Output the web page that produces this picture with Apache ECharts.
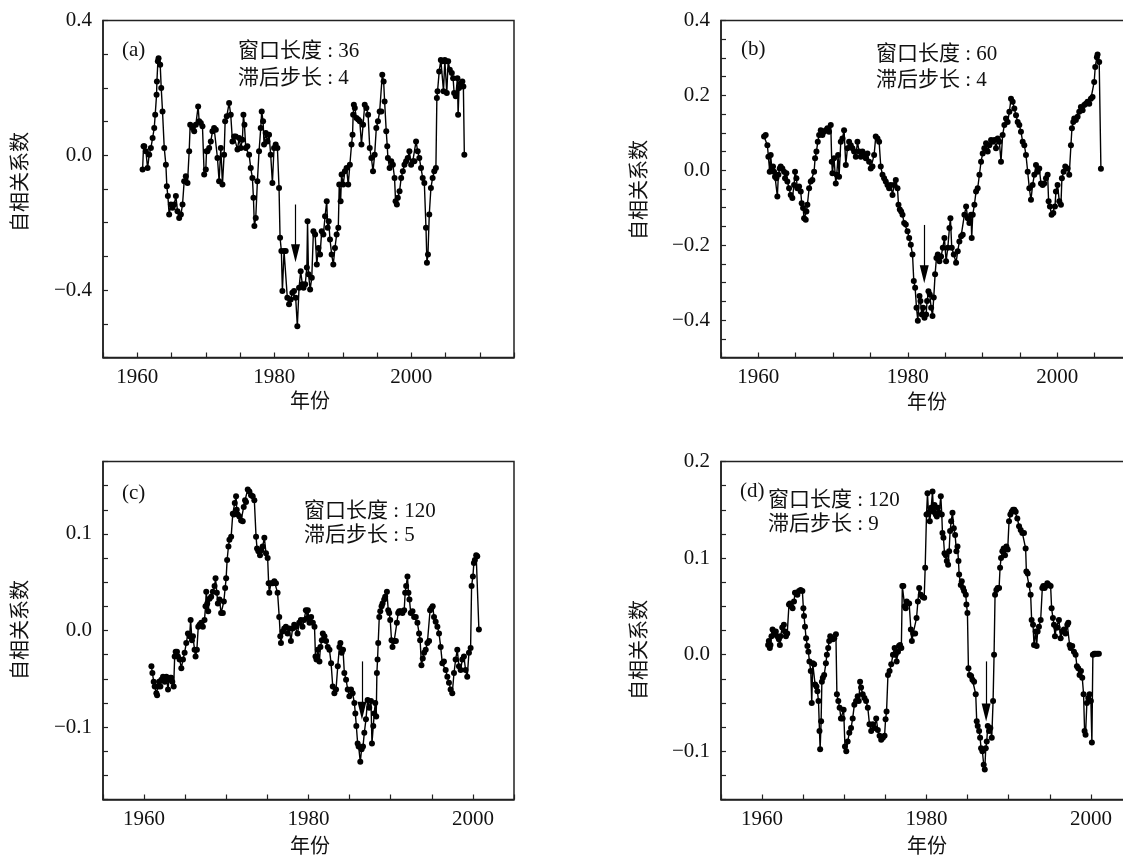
<!DOCTYPE html>
<html>
<head>
<meta charset="utf-8">
<script src="https://cdn.jsdelivr.net/npm/echarts@6/dist/echarts.min.js"></script>
<style>html,body{margin:0;padding:0;background:#fff;}#main{width:1123px;height:856px;}</style>
</head>
<body>
<div id="main"></div>
<script>
// ---- data: [year, autocorrelation] ----
const seriesA = [[1960.78,-0.042],[1960.92,0.027],[1961.02,0.027],[1961.26,0.012],[1961.51,-0.038],[1961.75,0.002],[1961.99,0.022],[1962.24,0.051],[1962.48,0.081],[1962.62,0.120],[1962.82,0.180],[1962.87,0.219],[1963.01,0.279],[1963.11,0.288],[1963.35,0.269],[1963.50,0.200],[1963.69,0.130],[1963.94,0.022],[1964.18,-0.028],[1964.32,-0.092],[1964.47,-0.121],[1964.66,-0.176],[1964.91,-0.146],[1965.15,-0.156],[1965.39,-0.146],[1965.64,-0.121],[1965.88,-0.166],[1966.12,-0.186],[1966.37,-0.176],[1966.61,-0.146],[1966.85,-0.077],[1967.09,-0.062],[1967.34,-0.082],[1967.58,0.012],[1967.73,0.091],[1968.07,0.081],[1968.31,0.071],[1968.55,0.091],[1968.89,0.145],[1969.04,0.101],[1969.28,0.096],[1969.52,0.086],[1969.77,-0.057],[1970.01,-0.042],[1970.11,0.012],[1970.25,0.012],[1970.50,0.022],[1970.74,0.041],[1970.98,0.071],[1971.22,0.081],[1971.47,0.076],[1971.71,-0.008],[1971.95,-0.077],[1972.20,0.022],[1972.44,-0.087],[1972.68,0.002],[1972.83,0.101],[1973.07,0.116],[1973.41,0.155],[1973.65,0.120],[1973.90,0.041],[1974.14,0.056],[1974.38,0.056],[1974.63,0.017],[1974.87,0.051],[1975.11,0.022],[1975.35,0.046],[1975.50,0.120],[1975.65,0.091],[1975.84,0.022],[1976.08,0.027],[1976.33,0.002],[1976.57,-0.038],[1976.81,-0.067],[1976.96,-0.126],[1977.10,-0.210],[1977.30,-0.186],[1977.54,-0.077],[1977.78,0.012],[1978.03,0.081],[1978.17,0.130],[1978.37,0.101],[1978.51,0.032],[1978.76,0.066],[1979.00,0.041],[1979.24,0.061],[1979.48,0.002],[1979.73,-0.082],[1979.97,0.022],[1980.21,0.032],[1980.46,0.022],[1980.70,-0.097],[1980.85,-0.245],[1981.04,-0.284],[1981.19,-0.403],[1981.43,-0.284],[1981.67,-0.284],[1981.91,-0.423],[1982.16,-0.442],[1982.40,-0.428],[1982.64,-0.408],[1982.89,-0.403],[1983.13,-0.423],[1983.37,-0.507],[1983.62,-0.393],[1983.86,-0.344],[1984.10,-0.383],[1984.28,-0.393],[1984.52,-0.383],[1984.76,-0.333],[1984.86,-0.196],[1985.00,-0.353],[1985.24,-0.398],[1985.48,-0.363],[1985.72,-0.225],[1985.97,-0.235],[1986.21,-0.324],[1986.45,-0.275],[1986.69,-0.294],[1986.93,-0.225],[1987.17,-0.235],[1987.42,-0.181],[1987.66,-0.136],[1987.80,-0.215],[1987.95,-0.196],[1988.14,-0.250],[1988.38,-0.294],[1988.62,-0.324],[1988.86,-0.275],[1989.11,-0.235],[1989.35,-0.215],[1989.49,-0.087],[1989.69,-0.136],[1989.83,-0.057],[1990.07,-0.087],[1990.31,-0.047],[1990.56,-0.038],[1990.80,-0.087],[1991.04,-0.028],[1991.28,0.032],[1991.43,0.061],[1991.52,0.120],[1991.62,0.150],[1991.76,0.140],[1992.00,0.111],[1992.25,0.106],[1992.49,0.101],[1992.73,0.032],[1992.97,0.091],[1993.21,0.150],[1993.45,0.140],[1993.70,0.120],[1993.94,0.022],[1994.18,-0.008],[1994.42,-0.047],[1994.66,0.002],[1994.90,0.081],[1995.14,0.101],[1995.39,0.130],[1995.63,0.130],[1995.77,0.239],[1995.97,0.219],[1996.11,0.160],[1996.35,0.071],[1996.50,0.027],[1996.59,-0.008],[1996.84,-0.038],[1997.08,-0.018],[1997.32,-0.028],[1997.56,-0.067],[1997.71,-0.136],[1997.90,-0.146],[1998.04,-0.126],[1998.29,-0.107],[1998.53,-0.067],[1998.77,-0.047],[1999.01,-0.028],[1999.25,-0.018],[1999.49,-0.008],[1999.73,0.012],[1999.98,-0.028],[2000.22,-0.018],[2000.46,-0.018],[2000.70,0.041],[2000.94,0.012],[2001.18,-0.008],[2001.43,-0.038],[2001.67,-0.067],[2001.91,-0.082],[2002.15,-0.215],[2002.29,-0.319],[2002.44,-0.294],[2002.63,-0.176],[2002.87,-0.097],[2003.12,-0.067],[2003.36,-0.047],[2003.60,-0.038],[2003.74,0.170],[2003.84,0.190],[2004.08,0.249],[2004.32,0.283],[2004.57,0.279],[2004.71,0.190],[2004.90,0.283],[2005.05,0.279],[2005.19,0.185],[2005.39,0.279],[2005.63,0.254],[2005.92,0.244],[2006.11,0.229],[2006.26,0.185],[2006.50,0.175],[2006.74,0.229],[2006.84,0.120],[2006.98,0.200],[2007.22,0.214],[2007.46,0.219],[2007.61,0.204],[2007.75,0.002]];

const seriesB = [[1960.76,0.090],[1960.98,0.094],[1961.21,0.067],[1961.34,0.036],[1961.52,-0.004],[1961.65,0.041],[1961.79,0.005],[1961.96,0.010],[1962.10,-0.004],[1962.23,-0.017],[1962.41,-0.021],[1962.54,-0.070],[1962.68,-0.012],[1962.86,0.005],[1962.99,0.010],[1963.21,0.005],[1963.44,-0.004],[1963.57,-0.021],[1963.75,-0.008],[1963.88,-0.030],[1964.11,-0.048],[1964.33,-0.066],[1964.55,-0.074],[1964.78,-0.039],[1964.91,-0.004],[1965.09,-0.021],[1965.22,-0.048],[1965.45,-0.043],[1965.67,-0.057],[1965.80,-0.088],[1965.98,-0.101],[1966.12,-0.128],[1966.34,-0.132],[1966.43,-0.110],[1966.56,-0.092],[1966.79,-0.048],[1967.01,-0.030],[1967.23,-0.026],[1967.46,-0.004],[1967.59,0.032],[1967.77,0.050],[1967.95,0.076],[1968.13,0.094],[1968.35,0.107],[1968.57,0.094],[1968.79,0.103],[1969.02,0.107],[1969.24,0.112],[1969.46,0.103],[1969.69,0.121],[1969.82,0.023],[1969.91,-0.008],[1970.13,0.032],[1970.36,-0.035],[1970.49,-0.012],[1970.67,0.041],[1970.80,-0.017],[1971.03,0.076],[1971.25,0.085],[1971.47,0.107],[1971.70,0.014],[1971.92,0.059],[1972.14,0.076],[1972.37,0.067],[1972.59,0.059],[1972.81,0.050],[1973.04,0.036],[1973.26,0.076],[1973.48,0.050],[1973.71,0.036],[1973.93,0.050],[1974.15,0.041],[1974.38,0.032],[1974.60,0.045],[1974.82,0.023],[1975.04,0.005],[1975.27,0.010],[1975.49,0.041],[1975.71,0.090],[1975.94,0.085],[1976.16,0.076],[1976.38,0.010],[1976.61,-0.012],[1976.83,-0.021],[1977.05,-0.030],[1977.28,-0.039],[1977.50,-0.048],[1977.72,-0.039],[1977.95,-0.066],[1978.17,-0.039],[1978.39,-0.026],[1978.62,-0.048],[1978.75,-0.092],[1978.93,-0.105],[1979.11,-0.110],[1979.29,-0.119],[1979.51,-0.141],[1979.73,-0.145],[1979.96,-0.163],[1980.18,-0.181],[1980.40,-0.199],[1980.63,-0.225],[1980.80,-0.296],[1980.98,-0.314],[1981.16,-0.367],[1981.34,-0.402],[1981.56,-0.336],[1981.69,-0.349],[1981.87,-0.385],[1982.05,-0.367],[1982.23,-0.394],[1982.45,-0.385],[1982.58,-0.349],[1982.76,-0.323],[1982.94,-0.332],[1983.12,-0.367],[1983.30,-0.389],[1983.47,-0.340],[1983.65,-0.278],[1983.83,-0.234],[1984.01,-0.225],[1984.23,-0.243],[1984.45,-0.230],[1984.68,-0.207],[1984.90,-0.181],[1985.12,-0.243],[1985.35,-0.207],[1985.57,-0.154],[1985.70,-0.128],[1985.88,-0.207],[1986.15,-0.225],[1986.46,-0.247],[1986.68,-0.216],[1986.90,-0.190],[1987.13,-0.176],[1987.35,-0.172],[1987.57,-0.119],[1987.80,-0.097],[1988.02,-0.128],[1988.24,-0.141],[1988.46,-0.119],[1988.55,-0.181],[1988.69,-0.119],[1988.91,-0.092],[1989.13,-0.057],[1989.35,-0.048],[1989.58,-0.012],[1989.80,0.023],[1990.02,0.045],[1990.24,0.059],[1990.47,0.072],[1990.69,0.050],[1990.91,0.067],[1991.14,0.081],[1991.36,0.076],[1991.58,0.081],[1991.80,0.059],[1992.03,0.085],[1992.25,0.076],[1992.47,0.023],[1992.69,0.094],[1992.92,0.121],[1993.14,0.138],[1993.36,0.129],[1993.59,0.156],[1993.81,0.191],[1994.03,0.183],[1994.25,0.165],[1994.48,0.147],[1994.70,0.129],[1994.92,0.121],[1995.14,0.103],[1995.37,0.076],[1995.59,0.067],[1995.81,0.041],[1996.04,-0.004],[1996.26,-0.048],[1996.48,-0.079],[1996.70,-0.039],[1996.93,-0.012],[1997.15,0.014],[1997.37,-0.004],[1997.59,0.005],[1997.82,-0.035],[1998.04,-0.039],[1998.26,-0.035],[1998.49,-0.021],[1998.71,-0.012],[1998.84,-0.083],[1999.02,-0.097],[1999.24,-0.119],[1999.47,-0.114],[1999.69,-0.097],[1999.82,-0.057],[2000.04,-0.039],[2000.27,-0.083],[2000.49,-0.092],[2000.62,-0.021],[2000.85,-0.004],[2001.07,0.010],[2001.38,0.005],[2001.60,-0.012],[2001.83,0.067],[2001.96,0.112],[2002.14,0.129],[2002.27,0.138],[2002.49,0.134],[2002.72,0.143],[2002.94,0.156],[2003.16,0.169],[2003.39,0.160],[2003.61,0.174],[2003.83,0.178],[2004.05,0.183],[2004.28,0.178],[2004.50,0.191],[2004.72,0.196],[2004.94,0.236],[2005.08,0.276],[2005.30,0.302],[2005.39,0.309],[2005.61,0.289],[2005.84,0.004]];

const seriesC = [[1960.89,-0.037],[1961.01,-0.044],[1961.17,-0.053],[1961.29,-0.058],[1961.49,-0.065],[1961.58,-0.067],[1961.70,-0.058],[1961.82,-0.053],[1961.98,-0.058],[1962.10,-0.051],[1962.30,-0.048],[1962.51,-0.053],[1962.71,-0.048],[1962.91,-0.061],[1963.03,-0.051],[1963.19,-0.049],[1963.31,-0.049],[1963.43,-0.053],[1963.60,-0.058],[1963.72,-0.027],[1963.84,-0.022],[1964.00,-0.022],[1964.12,-0.027],[1964.32,-0.030],[1964.53,-0.039],[1964.73,-0.030],[1964.93,-0.023],[1965.13,-0.013],[1965.33,-0.003],[1965.54,-0.006],[1965.66,0.011],[1965.82,-0.010],[1965.94,-0.006],[1966.14,-0.020],[1966.26,-0.027],[1966.42,-0.020],[1966.59,0.004],[1966.75,0.006],[1966.95,0.008],[1967.15,0.004],[1967.35,0.011],[1967.47,0.025],[1967.56,0.040],[1967.68,0.028],[1967.80,0.020],[1967.96,0.033],[1968.16,0.035],[1968.36,0.040],[1968.57,0.046],[1968.69,0.054],[1968.85,0.039],[1968.97,0.028],[1969.17,0.032],[1969.37,0.018],[1969.58,0.018],[1969.70,0.030],[1969.86,0.044],[1969.98,0.054],[1970.10,0.073],[1970.26,0.087],[1970.38,0.094],[1970.59,0.097],[1970.79,0.121],[1970.91,0.120],[1971.03,0.132],[1971.19,0.139],[1971.27,0.125],[1971.39,0.120],[1971.60,0.118],[1971.80,0.114],[1972.00,0.113],[1972.12,0.128],[1972.28,0.135],[1972.40,0.133],[1972.61,0.146],[1972.81,0.144],[1973.01,0.140],[1973.21,0.139],[1973.41,0.135],[1973.62,0.097],[1973.74,0.085],[1973.90,0.082],[1974.10,0.078],[1974.26,0.083],[1974.42,0.087],[1974.63,0.096],[1974.83,0.080],[1975.03,0.075],[1975.15,0.049],[1975.23,0.039],[1975.43,0.049],[1975.64,0.049],[1975.84,0.051],[1976.04,0.049],[1976.24,0.039],[1976.44,0.014],[1976.57,-0.006],[1976.65,-0.013],[1976.85,-0.001],[1977.05,0.002],[1977.25,0.004],[1977.45,-0.003],[1977.66,0.002],[1977.86,-0.011],[1978.06,0.002],[1978.26,0.006],[1978.46,0.004],[1978.67,-0.003],[1978.87,0.008],[1979.07,0.011],[1979.27,0.004],[1979.47,0.011],[1979.68,0.021],[1979.88,0.013],[1979.92,0.021],[1980.12,0.008],[1980.32,0.014],[1980.53,0.008],[1980.73,0.004],[1980.85,-0.027],[1980.97,-0.030],[1981.13,-0.020],[1981.33,-0.032],[1981.45,-0.017],[1981.62,-0.010],[1981.74,-0.003],[1981.94,-0.006],[1982.14,-0.011],[1982.34,-0.017],[1982.55,-0.020],[1982.75,-0.034],[1982.95,-0.058],[1983.15,-0.065],[1983.35,-0.061],[1983.56,-0.037],[1983.76,-0.017],[1983.88,-0.013],[1984.04,-0.023],[1984.20,-0.020],[1984.36,-0.044],[1984.57,-0.051],[1984.77,-0.061],[1984.97,-0.068],[1985.17,-0.061],[1985.37,-0.065],[1985.58,-0.075],[1985.70,-0.086],[1985.82,-0.099],[1985.98,-0.117],[1986.10,-0.120],[1986.30,-0.136],[1986.46,-0.123],[1986.63,-0.120],[1986.79,-0.106],[1986.99,-0.092],[1987.19,-0.072],[1987.39,-0.080],[1987.60,-0.073],[1987.72,-0.117],[1987.88,-0.099],[1988.00,-0.086],[1988.12,-0.075],[1988.24,-0.089],[1988.32,-0.044],[1988.40,-0.030],[1988.48,-0.013],[1988.61,0.014],[1988.73,0.020],[1988.89,0.025],[1989.01,0.028],[1989.21,0.032],[1989.33,0.035],[1989.54,0.040],[1989.70,0.021],[1989.82,0.018],[1989.94,0.011],[1990.10,-0.010],[1990.22,-0.017],[1990.42,-0.011],[1990.63,-0.011],[1990.75,0.008],[1990.91,0.018],[1991.03,0.020],[1991.23,0.020],[1991.43,0.018],[1991.64,0.021],[1991.76,0.039],[1991.88,0.046],[1992.04,0.056],[1992.16,0.039],[1992.28,0.032],[1992.44,0.018],[1992.65,0.020],[1992.85,0.014],[1993.05,0.014],[1993.25,0.008],[1993.45,-0.003],[1993.58,-0.010],[1993.74,-0.036],[1993.90,-0.029],[1994.06,-0.023],[1994.26,-0.020],[1994.46,-0.013],[1994.67,-0.011],[1994.79,0.021],[1994.95,0.023],[1995.11,0.025],[1995.27,0.014],[1995.47,0.009],[1995.68,0.004],[1995.88,-0.003],[1996.08,-0.017],[1996.28,-0.034],[1996.48,-0.032],[1996.69,-0.041],[1996.89,-0.048],[1997.09,-0.054],[1997.29,-0.061],[1997.49,-0.065],[1997.70,-0.044],[1997.90,-0.030],[1998.10,-0.020],[1998.30,-0.037],[1998.51,-0.041],[1998.71,-0.030],[1998.91,-0.027],[1999.11,-0.041],[1999.31,-0.048],[1999.52,-0.023],[1999.72,-0.018],[1999.84,0.046],[2000.00,0.056],[2000.12,0.070],[2000.24,0.073],[2000.40,0.078],[2000.53,0.077],[2000.73,0.001]];

const seriesD = [[1960.73,0.010],[1960.82,0.014],[1960.94,0.007],[1961.02,0.010],[1961.14,0.019],[1961.27,0.026],[1961.43,0.024],[1961.55,0.021],[1961.67,0.024],[1961.84,0.019],[1962.04,0.016],[1962.16,0.010],[1962.24,0.019],[1962.45,0.028],[1962.65,0.031],[1962.78,0.024],[1962.90,0.019],[1963.06,0.022],[1963.27,0.052],[1963.39,0.053],[1963.55,0.050],[1963.71,0.048],[1963.88,0.055],[1964.00,0.064],[1964.12,0.064],[1964.29,0.062],[1964.49,0.066],[1964.69,0.067],[1964.90,0.066],[1965.02,0.048],[1965.10,0.040],[1965.22,0.029],[1965.35,0.017],[1965.51,0.009],[1965.63,0.003],[1965.76,-0.007],[1965.92,-0.017],[1966.04,-0.050],[1966.16,-0.009],[1966.33,-0.010],[1966.45,-0.031],[1966.61,-0.033],[1966.73,-0.038],[1966.86,-0.048],[1966.98,-0.079],[1967.06,-0.098],[1967.18,-0.069],[1967.27,-0.028],[1967.39,-0.024],[1967.55,-0.021],[1967.76,-0.009],[1967.88,0.000],[1968.04,0.007],[1968.16,0.014],[1968.29,0.019],[1968.45,0.017],[1968.61,0.016],[1968.78,0.017],[1968.98,0.021],[1969.10,-0.041],[1969.27,-0.048],[1969.43,-0.055],[1969.59,-0.066],[1969.80,-0.066],[1969.92,-0.057],[1970.08,-0.095],[1970.24,-0.100],[1970.41,-0.090],[1970.61,-0.081],[1970.82,-0.076],[1971.02,-0.066],[1971.22,-0.052],[1971.43,-0.048],[1971.63,-0.043],[1971.76,-0.048],[1971.92,-0.028],[1972.04,-0.034],[1972.24,-0.041],[1972.45,-0.045],[1972.65,-0.048],[1972.86,-0.055],[1973.06,-0.072],[1973.27,-0.079],[1973.47,-0.072],[1973.67,-0.076],[1973.88,-0.066],[1974.08,-0.078],[1974.29,-0.084],[1974.49,-0.088],[1974.69,-0.086],[1974.90,-0.084],[1975.02,-0.067],[1975.14,-0.059],[1975.31,-0.021],[1975.51,-0.017],[1975.71,-0.010],[1975.92,0.000],[1976.12,0.007],[1976.24,0.000],[1976.37,-0.007],[1976.53,0.003],[1976.65,0.009],[1976.78,0.010],[1976.94,0.007],[1977.06,0.071],[1977.18,0.071],[1977.35,0.050],[1977.47,0.048],[1977.59,0.055],[1977.89,0.053],[1978.10,0.026],[1978.22,0.014],[1978.38,0.022],[1978.62,0.022],[1978.79,0.038],[1978.95,0.055],[1979.11,0.069],[1979.31,0.062],[1979.51,0.060],[1979.72,0.059],[1979.84,0.090],[1980.00,0.145],[1980.12,0.167],[1980.24,0.147],[1980.40,0.138],[1980.57,0.152],[1980.73,0.169],[1980.85,0.148],[1980.97,0.155],[1981.13,0.145],[1981.26,0.143],[1981.38,0.152],[1981.54,0.147],[1981.74,0.164],[1981.86,0.145],[1981.94,0.126],[1982.06,0.121],[1982.19,0.105],[1982.35,0.103],[1982.47,0.097],[1982.63,0.093],[1982.75,0.107],[1982.87,0.128],[1983.00,0.138],[1983.16,0.147],[1983.32,0.131],[1983.48,0.124],[1983.64,0.107],[1983.77,0.112],[1983.89,0.097],[1983.97,0.083],[1984.17,0.072],[1984.29,0.076],[1984.45,0.069],[1984.57,0.066],[1984.78,0.062],[1984.86,0.052],[1984.98,0.043],[1985.10,-0.014],[1985.26,-0.021],[1985.43,-0.022],[1985.59,-0.026],[1985.79,-0.028],[1985.99,-0.041],[1986.11,-0.069],[1986.23,-0.074],[1986.40,-0.079],[1986.52,-0.086],[1986.64,-0.097],[1986.80,-0.100],[1986.96,-0.114],[1987.09,-0.119],[1987.21,-0.097],[1987.33,-0.090],[1987.45,-0.074],[1987.61,-0.079],[1987.77,-0.076],[1987.94,-0.086],[1988.10,-0.048],[1988.22,0.000],[1988.34,0.062],[1988.50,0.067],[1988.66,0.069],[1988.83,0.069],[1988.95,0.090],[1989.07,0.100],[1989.23,0.107],[1989.39,0.110],[1989.55,0.103],[1989.72,0.112],[1989.88,0.109],[1990.04,0.138],[1990.20,0.145],[1990.36,0.148],[1990.53,0.150],[1990.69,0.150],[1990.85,0.148],[1991.05,0.141],[1991.26,0.133],[1991.46,0.129],[1991.66,0.126],[1991.86,0.126],[1992.06,0.110],[1992.15,0.086],[1992.31,0.084],[1992.47,0.072],[1992.67,0.062],[1992.79,0.036],[1992.96,0.031],[1993.08,0.010],[1993.28,0.024],[1993.40,0.009],[1993.52,0.024],[1993.68,0.029],[1993.89,0.036],[1994.09,0.069],[1994.21,0.071],[1994.37,0.069],[1994.49,0.071],[1994.70,0.074],[1994.90,0.072],[1995.10,0.071],[1995.22,0.048],[1995.38,0.038],[1995.51,0.031],[1995.63,0.019],[1995.79,0.028],[1995.95,0.028],[1996.11,0.036],[1996.32,0.017],[1996.52,0.024],[1996.72,0.026],[1996.92,0.022],[1997.13,0.031],[1997.25,0.033],[1997.41,0.010],[1997.53,0.007],[1997.73,0.009],[1997.94,0.003],[1998.14,0.000],[1998.30,-0.012],[1998.46,-0.014],[1998.62,-0.021],[1998.79,-0.017],[1998.95,-0.024],[1999.11,-0.041],[1999.23,-0.079],[1999.35,-0.083],[1999.51,-0.050],[1999.68,-0.045],[1999.84,-0.041],[2000.00,-0.048],[2000.12,-0.091],[2000.24,0.000],[2000.40,0.001],[2000.57,0.001],[2000.77,0.001],[2000.97,0.001]];

// arrows: [year, start value, value at arrow-head centre]
const arrowA = [1983.1, -0.146, -0.291];
const arrowB = [1982.2, -0.146, -0.278];
const arrowC = [1986.5, -0.032, -0.083];
const arrowD = [1987.25, -0.007, -0.060];

const panelLabels = ['(a)', '(b)', '(c)', '(d)'];
const windowTexts = ['窗口长度 : 36', '窗口长度 : 60', '窗口长度 : 120', '窗口长度 : 120'];
const lagTexts = ['滞后步长 : 4', '滞后步长 : 4', '滞后步长 : 5', '滞后步长 : 9'];
const xName = '年份';
const yName = '自相关系数';
const xTickLabels = [1960, 1980, 2000];

// axis ranges [min, max, tick step, label step]
const xRanges = [[1955, 2015], [1955, 2010], [1955, 2005], [1955, 2005]];
const yRanges = [[-0.6, 0.4, 0.1, 0.4], [-0.5, 0.4, 0.05, 0.2], [-0.175, 0.175, 0.025, 0.1], [-0.15, 0.2, 0.025, 0.1]];

// ---- layout ----
const FONT = "'Liberation Serif','Noto Sans CJK SC',serif";
const TXT = '#111';
const grids = [
  {left: 103, top: 20.5, width: 411, height: 337},
  {left: 721, top: 20.5, width: 411, height: 337},
  {left: 103, top: 461.5, width: 411, height: 338},
  {left: 721, top: 461.5, width: 411, height: 338}
];

function fmtY(step) {
  return function (v) {
    const k = Math.round(v / step * 1000) / 1000;
    if (Math.abs(k - Math.round(k)) > 1e-6) return '';
    const r = Math.round(v * 1000) / 1000;
    if (r === 0) return '0.0';
    return (r < 0 ? '\u2212' : '') + Math.abs(r).toFixed(1);
  };
}

const tickStyle = {show: true, inside: true, length: 5, lineStyle: {color: '#222', width: 1.2}};
const lineAxis = {show: true, onZero: false, lineStyle: {color: '#222', width: 1.5}};
const allSeries = [seriesA, seriesB, seriesC, seriesD];
const arrows = [arrowA, arrowB, arrowC, arrowD];

const option = {
  animation: false,
  backgroundColor: '#fff',
  grid: grids.map(g => Object.assign({show: true, borderColor: '#222', borderWidth: 1.5, backgroundColor: 'transparent', containLabel: false, outerBoundsMode: 'none'}, g)),
  xAxis: xRanges.map((r, i) => ({
    gridIndex: i, type: 'value', min: r[0], max: r[1], interval: 5,
    axisLine: lineAxis,
    splitLine: {show: false},
    axisTick: tickStyle,
    axisLabel: {
      margin: 9, color: TXT, fontFamily: FONT, fontSize: 21,
      formatter: v => (xTickLabels.indexOf(Math.round(v)) >= 0 ? String(Math.round(v)) : '')
    }
  })),
  yAxis: yRanges.map((r, i) => ({
    gridIndex: i, type: 'value', min: r[0], max: r[1], interval: r[2],
    axisLine: lineAxis,
    splitLine: {show: false},
    axisTick: tickStyle,
    axisLabel: {margin: 11, color: TXT, fontFamily: FONT, fontSize: 21, formatter: fmtY(r[3])}
  })),
  series: allSeries.map((d, i) => ({
    type: 'line', xAxisIndex: i, yAxisIndex: i, data: d,
    showSymbol: true, showAllSymbol: true, symbol: 'circle', symbolSize: 6,
    itemStyle: {color: '#000'},
    lineStyle: {color: '#000', width: 1.4},
    silent: true,
    markLine: {
      silent: true, animation: false,
      symbol: ['none', 'triangle'], symbolSize: [9, 18],
      lineStyle: {color: '#000', width: 1.2, type: 'solid'},
      label: {show: false},
      data: [[{coord: [arrows[i][0], arrows[i][1]]}, {coord: [arrows[i][0], arrows[i][2]]}]]
    }
  })),
  graphic: []
};

// annotation texts
const labelPos = [[122, 50], [741, 49], [122, 493], [740, 491]];
const textPos = [[238, 51.5, 78], [876, 54, 80], [304, 511, 535], [768, 500, 524]];
const yNamePos = [[22, 182], [641, 190], [22, 630], [641, 650]];
const xNamePos = [[310, 403], [927, 404], [310, 848], [927, 848]];
function txt(text, x, y, opts) {
  return {type: 'text', silent: true, style: Object.assign({text: text, x: x, y: y, fill: TXT, font: "21px " + FONT, verticalAlign: 'middle', align: 'left'}, opts || {})};
}
for (let i = 0; i < 4; i++) {
  option.graphic.push(txt(panelLabels[i], labelPos[i][0], labelPos[i][1]));
  option.graphic.push(txt(windowTexts[i], textPos[i][0], textPos[i][1]));
  option.graphic.push(txt(lagTexts[i], textPos[i][0], textPos[i][2]));
  option.graphic.push({type: 'text', silent: true, x: yNamePos[i][0], y: yNamePos[i][1], rotation: Math.PI / 2,
    style: {text: yName, x: 0, y: 0, fill: TXT, font: "20px " + FONT, align: 'center', verticalAlign: 'middle'}});
  option.graphic.push(txt(xName, xNamePos[i][0], xNamePos[i][1], {align: 'center', font: "20px " + FONT}));
}

const chart = echarts.init(document.getElementById('main'), null, {renderer: 'canvas'});
chart.setOption(option);
</script>
</body>
</html>
